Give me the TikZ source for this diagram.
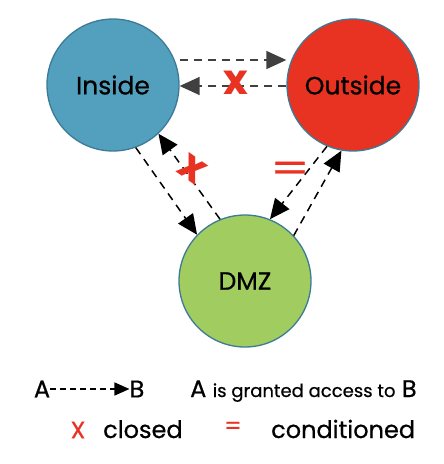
\documentclass[tikz,border=0pt]{standalone}
\usepackage{fontspec}
\setmainfont{Poppins}
\newfontfamily\heavyfont{Poppins}[FakeBold=0.6]
\usetikzlibrary{arrows.meta}
\definecolor{insideblue}{RGB}{82,160,190}
\definecolor{outsidered}{RGB}{232,50,34}
\definecolor{dmzgreen}{RGB}{160,204,96}
\definecolor{rimteal}{RGB}{60,122,150}
\definecolor{markred}{RGB}{232,50,34}
\definecolor{dashgrey}{RGB}{64,64,64}
\tikzset{
  zone/.style={circle,draw=rimteal,line width=1.3pt,minimum size=132pt,inner sep=0pt,font=\heavyfont\fontsize{25}{28}\selectfont},
  access/.style={dash pattern=on 8pt off 6pt,line width=1.5pt,-{Triangle[length=20pt,width=18pt]}},
  redmark/.style={text=markred,font=\fontsize{42}{42}\selectfont\bfseries,inner sep=0pt},
  legend/.style={inner sep=0pt,font=\heavyfont\fontsize{24}{28}\selectfont}
}
\begin{document}
\begin{tikzpicture}[x=1pt,y=-1pt]
    \useasboundingbox (0,0) rectangle (444,464);
    % zones
    \node[zone,fill=insideblue] (inside) at (113,85) {Inside};
    \node[zone,fill=outsidered] (outside) at (353,85) {Outside};
    \node[zone,fill=dmzgreen] (dmz) at (245,281) {DMZ};
    % access between zones
    \draw[access,dashgrey] (inside.east |- 0,60) -- (outside.west |- 0,60);
    \draw[access,dashgrey] (outside.west |- 0,86) -- (inside.east |- 0,86);
    \draw[access] (inside.-70) -- (dmz.136);
    \draw[access] (dmz.112) -- (inside.-47);
    \draw[access] (outside.-113) -- (dmz.68);
    \draw[access] (dmz.43) -- (outside.-100);
    % closed and conditioned marks
    \node[redmark] (closedtop) at (236,83) {x};
    \node[redmark,rotate=-35] (closedleft) at (192,169) {x};
    \node[redmark,font=\heavyfont\fontsize{40}{40}\selectfont,xscale=1.4] (condright) at (290,172) {=};
    % legend
    \node[legend] (la) at (42,389) {A};
    \node[legend] (lb) at (137,389) {B};
    \draw[dash pattern=on 6pt off 4pt,line width=1.4pt,-{Triangle[length=15pt,width=13pt]}] (la) -- (lb);
    \node[legend,anchor=base west] (granted) at (190,397) {A {\fontsize{18}{20}\selectfont is granted access to} B};
    \node[legend,text=markred] (lx) at (78,430) {X};
    \node[legend,anchor=base west] (lclosed) at (103,438) {closed};
    \node[legend,text=markred] (leq) at (233,428) {=};
    \node[legend,anchor=base west] (lcond) at (271,438) {conditioned};
\end{tikzpicture}
\end{document}
